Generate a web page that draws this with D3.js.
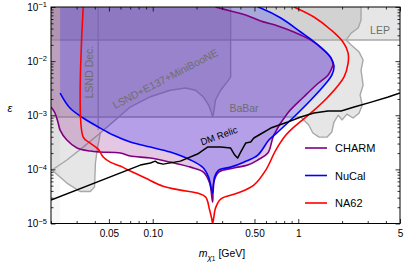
<!DOCTYPE html>
<html>
<head>
<meta charset="utf-8">
<script src="https://cdn.jsdelivr.net/npm/d3@7"></script>
<style>
  body { margin: 0; background: #fff; }
  svg { display: block; font-family: "Liberation Sans", Arial, sans-serif; }
</style>
</head>
<body>
<div id="chart"></div>
<script>
// ---- data (m_chi1 in GeV, epsilon) ----
const lepBand = [[0.02, 0.0245], [5, 0.0245], [5, 0.1], [0.02, 0.1]];

const babarRegion = [
  [0.02, 9.27e-4], [1.04, 9.27e-4], [1.18, 6.6e-4], [1.26, 4.7e-4], [1.39, 3.95e-4],
  [1.58, 3.95e-4], [1.70, 4.9e-4], [1.76, 7.5e-4], [1.88, 1.0e-3], [2.0, 8.2e-4],
  [2.16, 1.05e-3], [2.38, 8.9e-4], [2.62, 1.1e-3], [2.75, 1.55e-3], [2.66, 2.36e-3],
  [2.79, 3.6e-3], [2.70, 6.8e-3], [2.79, 0.0105], [2.62, 0.0147], [2.31, 0.0198],
  [2.13, 0.0245], [2.31, 0.033], [2.58, 0.041], [2.70, 0.0575], [2.70, 0.1], [0.02, 0.1]
];

// LSND decay + LSND/E137/MiniBooNE excluded area (one outline)
const lsndRegion = [
  [0.02, 0.1], [0.343, 0.1], [0.343, 5.08e-3], [0.324, 4.1e-3], [0.293, 2.9e-3],
  [0.270, 1.91e-3], [0.262, 1.1e-3], [0.258, 9.27e-4], [0.254, 1.1e-3], [0.242, 1.54e-3],
  [0.223, 2.17e-3], [0.197, 2.9e-3], [0.168, 3.18e-3], [0.132, 2.9e-3], [0.0964, 2.2e-3],
  [0.0701, 1.42e-3], [0.0553, 8.15e-4], [0.0436, 4.69e-4], [0.0415, 2.27e-4],
  [0.0404, 1.31e-4], [0.0398, 4.7e-5], [0.0372, 3.9e-5], [0.0317, 3.9e-5],
  [0.0257, 5.58e-5], [0.0203, 9.7e-5], [0.02, 1.0e-4]
];
const lsndDecEdge = [[0.0422, 0.1], [0.0422, 5.3e-4]];
const e137Edge = [[0.0436, 4.69e-4], [0.0333, 2.58e-4], [0.0257, 1.49e-4], [0.0203, 9.7e-5]];

const charmCurve = [
  [0.270, 0.1], [0.343, 0.0843], [0.435, 0.0711], [0.552, 0.0551], [0.724, 0.0446],
  [0.933, 0.0345], [1.22, 0.0245], [1.50, 0.0160], [1.68, 0.0114], [1.73, 0.0085],
  [1.70, 0.00745], [1.60, 0.0055], [1.37, 0.0039], [1.09, 0.00217], [0.847, 0.0011],
  [0.679, 4.3e-4], [0.618, 2.0e-4], [0.527, 1.49e-4], [0.450, 1.2e-4], [0.360, 1.06e-4],
  [0.284, 8.9e-5], [0.262, 5.58e-5], [0.258, 2.49e-5], [0.246, 5.58e-5], [0.223, 8.9e-5],
  [0.182, 1.1e-4], [0.132, 1.36e-4], [0.0964, 1.62e-4], [0.0701, 1.76e-4], [0.0598, 2.0e-4],
  [0.0436, 2.09e-4], [0.0372, 2.18e-4], [0.0302, 2.48e-4], [0.0257, 3.48e-4],
  [0.0231, 5.32e-4], [0.0224, 7.2e-4], [0.0213, 1.1e-3], [0.02, 1.42e-3]
];

const nucalCurve = [
  [0.0231, 0.00257], [0.027, 0.00136], [0.0333, 8.9e-4], [0.0436, 5.79e-4], [0.0535, 4.3e-4],
  [0.0701, 3.2e-4], [0.0964, 2.58e-4], [0.132, 2.09e-4], [0.182, 1.49e-4], [0.223, 1.06e-4],
  [0.242, 7.2e-5], [0.258, 3.65e-5], [0.266, 7.2e-5], [0.284, 9.7e-5], [0.343, 1.1e-4],
  [0.422, 1.36e-4], [0.527, 1.84e-4], [0.628, 3.48e-4], [0.724, 4.9e-4], [0.933, 9.27e-4],
  [1.22, 1.91e-3], [1.55, 3.9e-3], [1.70, 5.5e-3], [1.76, 8.1e-3], [1.68, 0.0114],
  [1.55, 0.0147], [1.32, 0.0216], [1.04, 0.0345], [0.759, 0.0626], [0.552, 0.0958], [0.527, 0.1]
];

const na62Curve = [
  [0.0333, 0.1], [0.0333, 3.95e-4], [0.0372, 3.06e-4], [0.0422, 2.37e-4], [0.0457, 1.69e-4],
  [0.051, 1.36e-4], [0.0598, 1.15e-4], [0.0701, 9.3e-5], [0.089, 6.9e-5], [0.118, 4.9e-5],
  [0.155, 4.14e-5], [0.203, 3.65e-5], [0.231, 3.08e-5], [0.246, 1.77e-5], [0.254, 1.24e-5],
  [0.258, 1.0e-5], [0.262, 1.24e-5], [0.270, 1.93e-5], [0.293, 2.83e-5], [0.383, 3.65e-5],
  [0.495, 5.13e-5], [0.598, 9.7e-5], [0.701, 2.27e-4], [0.822, 4.3e-4], [0.933, 6.05e-4],
  [1.22, 1.1e-3], [1.60, 2.17e-3], [2.06, 5.08e-3], [2.20, 9.2e-3], [2.20, 0.0141],
  [2.03, 0.0225], [1.68, 0.0376], [1.28, 0.0653], [0.933, 0.1]
];

const dmRelic = [
  [0.02, 2.71e-5], [0.0822, 1.2e-4], [0.0964, 1.31e-4], [0.104, 1.42e-4], [0.109, 1.31e-4],
  [0.118, 1.25e-4], [0.155, 1.42e-4], [0.203, 1.92e-4], [0.238, 2.58e-4], [0.293, 2.58e-4],
  [0.343, 2.48e-4], [0.366, 1.84e-4], [0.383, 1.62e-4], [0.402, 2.09e-4], [0.435, 3.06e-4],
  [0.471, 3.2e-4], [0.495, 3.8e-4], [0.552, 4.5e-4], [0.647, 5.8e-4], [0.847, 7.5e-4],
  [1.04, 9.27e-4], [1.28, 1.1e-3], [1.60, 1.2e-3], [1.97, 1.2e-3], [2.42, 1.42e-3],
  [3.17, 1.75e-3], [4.15, 2.17e-3], [5.0, 2.57e-3]
];

const legendNames = ['CHARM', 'NuCal', 'NA62'];
const legendColors = ['#800080', '#0000ff', '#ff0000'];

const xMajor = [0.05, 0.1, 0.5, 1, 5];
const xMajorLabels = ['0.05', '0.10', '0.50', '1', '5'];
const xMinor = [0.02, 0.03, 0.04, 0.06, 0.07, 0.08, 0.09, 0.2, 0.3, 0.4, 0.6, 0.7, 0.8, 0.9, 2, 3, 4];
const yMajor = [1e-5, 1e-4, 1e-3, 1e-2, 1e-1];
const yExponents = ['−5', '−4', '−3', '−2', '−1'];

// ---- layout ----
const W = 407, H = 269;
const pLeft = 51, pRight = 400, pTop = 7, pBottom = 223.5;

const svg = d3.select('#chart').append('svg')
  .attr('width', W).attr('height', H);

const x = d3.scaleLog().domain([0.02, 5]).range([pLeft, pRight]);
const y = d3.scaleLog().domain([1e-5, 0.1]).range([pBottom, pTop]);

const yMinor = [];
yMajor.slice(0, -1).forEach(d => { for (let k = 2; k <= 9; k++) yMinor.push(d * k); });

svg.append('clipPath').attr('id', 'plot')
  .append('rect').attr('x', pLeft).attr('y', pTop)
  .attr('width', pRight - pLeft).attr('height', pBottom - pTop);

const g = svg.append('g').attr('clip-path', 'url(#plot)');

const line = d3.line().x(d => x(d[0])).y(d => y(d[1]));
const smooth = d3.line().x(d => x(d[0])).y(d => y(d[1])).curve(d3.curveCatmullRom.alpha(0.5));

// grey constraints
const greyFill = '#808080';
[lepBand, babarRegion, lsndRegion].forEach(r => {
  g.append('path').attr('d', line(r) + 'Z')
    .attr('fill', greyFill).attr('fill-opacity', 0.2).attr('stroke', 'none');
});
// faint left strip
g.append('path').attr('d', line([[0.02, 1e-5], [0.0231, 1e-5], [0.0231, 0.1], [0.02, 0.1]]) + 'Z')
  .attr('fill', greyFill).attr('fill-opacity', 0.06);

const greyLines = [
  lepBand.slice(0, 2), babarRegion.slice(0, -1), lsndRegion.slice(1), lsndDecEdge, e137Edge
];
greyLines.forEach(l => {
  g.append('path').attr('d', line(l)).attr('fill', 'none')
    .attr('stroke', '#a8a8a8').attr('stroke-width', 1.4).attr('stroke-linejoin', 'round');
});

// grey labels
const grey = svg.append('g').attr('fill', '#6e6e6e').attr('font-size', 10.5);
grey.append('text').attr('transform', 'translate(93,72) rotate(-90)')
  .attr('text-anchor', 'middle').text('LSND Dec.');
grey.append('text').attr('transform', 'translate(167,82) rotate(-27.5)')
  .attr('text-anchor', 'middle').text('LSND+E137+MiniBooNE');
grey.append('text').attr('x', 244).attr('y', 112).attr('text-anchor', 'middle').text('BaBar');
grey.append('text').attr('x', 380).attr('y', 34).attr('text-anchor', 'middle').text('LEP');

// experiment fills
function fillPath(curve, corner) {
  return smooth(curve) + 'L' + x(corner[0]) + ',' + y(corner[1]) + 'Z';
}
g.append('path').attr('d', fillPath(charmCurve, [0.02, 0.1]))
  .attr('fill', '#800080').attr('fill-opacity', 0.22);
g.append('path').attr('d', fillPath(nucalCurve, [0.0231, 0.1]))
  .attr('fill', '#0000ff').attr('fill-opacity', 0.2);

// outlines
[[charmCurve, legendColors[0]], [nucalCurve, legendColors[1]], [na62Curve, legendColors[2]]]
  .forEach(([c, col]) => {
    g.append('path').attr('d', smooth(c)).attr('fill', 'none')
      .attr('stroke', col).attr('stroke-width', 1.6).attr('stroke-linejoin', 'round');
  });

g.append('path').attr('d', line(dmRelic)).attr('fill', 'none')
  .attr('stroke', '#000').attr('stroke-width', 1.5).attr('stroke-linejoin', 'round');

svg.append('text').attr('transform', 'translate(220,139) rotate(-20)')
  .attr('text-anchor', 'middle').attr('font-size', 9.5).text('DM Relic');

// frame + axes
svg.append('rect').attr('x', pLeft).attr('y', pTop)
  .attr('width', pRight - pLeft).attr('height', pBottom - pTop)
  .attr('fill', 'none').attr('stroke', '#000').attr('stroke-width', 1);

function styleAxis(sel) {
  sel.select('.domain').remove();
  sel.selectAll('line').attr('stroke', '#000').attr('stroke-width', 0.8);
  sel.attr('font-family', null).attr('font-size', 10);
}

svg.append('g').attr('transform', `translate(0,${pBottom})`)
  .call(d3.axisBottom(x).tickValues(xMajor).tickSize(-4.5).tickPadding(6)
    .tickFormat((d, i) => xMajorLabels[i]))
  .call(styleAxis);
svg.append('g').attr('transform', `translate(0,${pBottom})`)
  .call(d3.axisBottom(x).tickValues(xMinor).tickSize(-2.5).tickFormat(''))
  .call(styleAxis);
svg.append('g').attr('transform', `translate(0,${pTop})`)
  .call(d3.axisTop(x).tickValues(xMajor).tickSize(-4.5).tickFormat(''))
  .call(styleAxis);
svg.append('g').attr('transform', `translate(0,${pTop})`)
  .call(d3.axisTop(x).tickValues(xMinor).tickSize(-2.5).tickFormat(''))
  .call(styleAxis);

const yAxis = svg.append('g').attr('transform', `translate(${pLeft},0)`)
  .call(d3.axisLeft(y).tickValues(yMajor).tickSize(-4.5).tickPadding(4).tickFormat(() => '10'))
  .call(styleAxis);
yAxis.selectAll('.tick text').append('tspan')
  .attr('dy', '-0.45em').attr('font-size', 7.5).text((d, i) => yExponents[i]);
svg.append('g').attr('transform', `translate(${pLeft},0)`)
  .call(d3.axisLeft(y).tickValues(yMinor).tickSize(-2.5).tickFormat(''))
  .call(styleAxis);
svg.append('g').attr('transform', `translate(${pRight},0)`)
  .call(d3.axisRight(y).tickValues(yMajor).tickSize(-4.5).tickFormat(''))
  .call(styleAxis);
svg.append('g').attr('transform', `translate(${pRight},0)`)
  .call(d3.axisRight(y).tickValues(yMinor).tickSize(-2.5).tickFormat(''))
  .call(styleAxis);

// axis titles
svg.append('text').attr('x', 10).attr('y', 112).attr('text-anchor', 'middle')
  .attr('font-size', 11).attr('font-style', 'italic').text('ε');

const xt = svg.append('text').attr('x', 222).attr('y', 257).attr('text-anchor', 'middle')
  .attr('font-size', 10.5);
xt.append('tspan').attr('font-style', 'italic').text('m');
xt.append('tspan').attr('font-style', 'italic').attr('font-size', 8).attr('dy', 2.5).text('χ');
xt.append('tspan').attr('font-size', 6.5).attr('dy', 1.5).text('1');
xt.append('tspan').attr('dy', -4).text(' [GeV]');

// legend
const legend = svg.append('g');
legendNames.forEach((name, i) => {
  const ly = 148 + i * 27.5;
  legend.append('line').attr('x1', 305).attr('x2', 327).attr('y1', ly).attr('y2', ly)
    .attr('stroke', legendColors[i]).attr('stroke-width', 1.6);
  legend.append('text').attr('x', 335).attr('y', ly + 4).attr('font-size', 11).text(name);
});
</script>
</body>
</html>
